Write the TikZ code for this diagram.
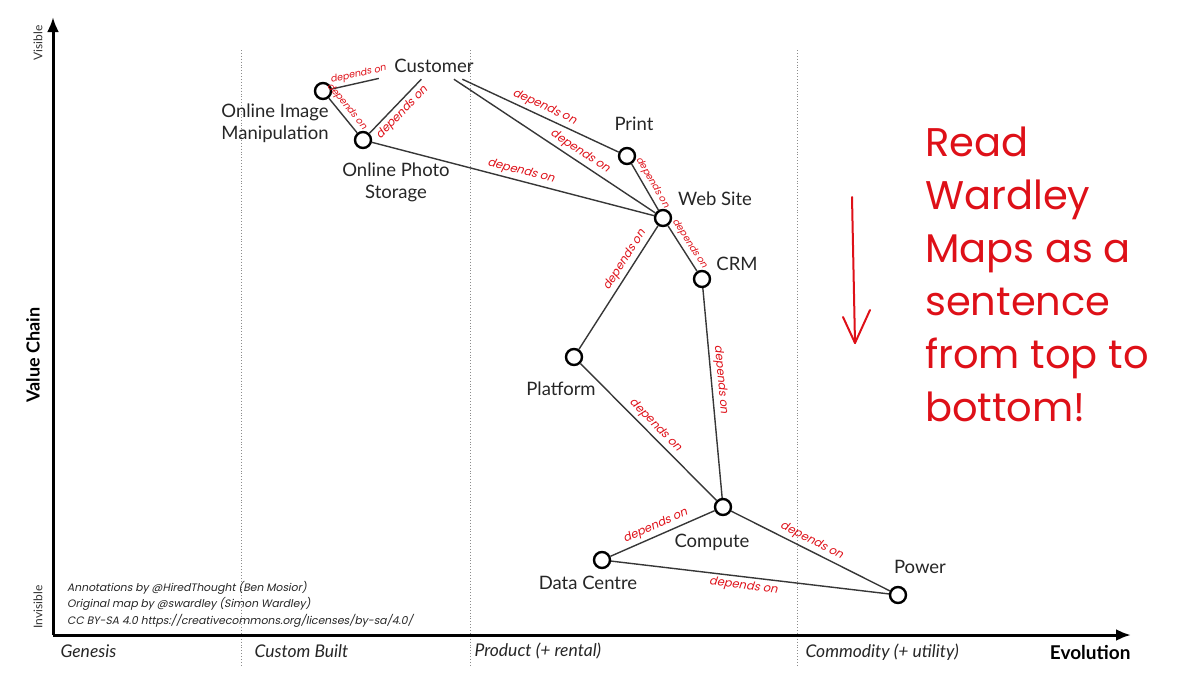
\documentclass[tikz,border=0pt]{standalone}
\usepackage{fontspec}
\setmainfont{Lato}
\newfontfamily\handfont{Poppins}
\newfontfamily\handslant[FakeSlant=0.2]{Poppins}
\usetikzlibrary{arrows.meta}
\definecolor{mapred}{RGB}{222,16,24}
\definecolor{linegray}{RGB}{55,55,55}

\begin{document}
\begin{tikzpicture}[x=1pt,y=-1pt,
  comp/.style={circle,draw=black,line width=2.4pt,fill=white,minimum size=16pt,inner sep=0pt},
  lbl/.style={font=\fontsize{18.5}{22}\selectfont,align=center,text=black!85},
  dep/.style={sloped,font=\handslant\fontsize{11.5}{13}\selectfont,text=mapred,inner sep=3pt},
  depsmall/.style={dep,font=\handslant\fontsize{9.5}{11}\selectfont},
  link/.style={draw=linegray,line width=1.4pt},
  axis/.style={line width=3pt,-{Latex[length=15pt,width=12pt]}},
  stage/.style={font=\itshape\fontsize{17.5}{20}\selectfont,anchor=west,text=black!85}]

\useasboundingbox (0,0) rectangle (1200,675);

% evolution stages
\foreach \x in {241,470,797}{
\draw[black!45,dotted,line width=0.9pt] (\x,50) -- (\x,665);
}

% axes
\coordinate (origin) at (53,635);
\draw[axis] (origin) -- (53,17);
\draw[axis] (origin) -- (1131,635);

\node[rotate=90,font=\fontsize{12}{14}\selectfont,text=black!80] (visible) at (38,43) {Visible};
\node[rotate=90,font=\fontsize{12}{14}\selectfont,text=black!80] (invisible) at (38,607) {Invisible};
\node[rotate=90,font=\bfseries\fontsize{18}{21}\selectfont] (valuechain) at (33,355) {Value Chain};

\node[stage] (genesis) at (57,651) {Genesis};
\node[stage] (custom) at (251,651) {Custom Built};
\node[stage] (product) at (471,651) {Product (+ rental)};
\node[stage] (commodity) at (802,652) {Commodity (+ utility)};
\node[anchor=east,font=\bfseries\fontsize{19}{22}\selectfont] (evolution) at (1134,653) {Evolution};

% components
\node[lbl,minimum width=110pt,minimum height=26pt,inner sep=0pt] (cust) at (434,66) {Customer};
\node[comp] (oim) at (323,91) {};
\node[comp] (ops) at (363,140) {};
\node[comp] (print) at (627,156) {};
\node[comp] (web) at (663,218) {};
\node[comp] (crm) at (702,279) {};
\node[comp] (plat) at (574,357) {};
\node[comp] (comp) at (723,507) {};
\node[comp] (dc) at (602,560) {};
\node[comp] (power) at (898,595) {};

\node[lbl] (oimlbl) at (275,123) {Online Image\\Manipulation};
\node[lbl] (opslbl) at (396,182) {Online Photo\\Storage};
\node[lbl] (printlbl) at (634,124) {Print};
\node[lbl] (weblbl) at (715,199) {Web Site};
\node[lbl] (crmlbl) at (737,264) {CRM};
\node[lbl] (platlbl) at (561,389) {Platform};
\node[lbl] (complbl) at (712,542) {Compute};
\node[lbl] (dclbl) at (588,583) {Data Centre};
\node[lbl] (powerlbl) at (920,567) {Power};

% dependencies
\draw[link] (oim) -- node[depsmall,above,pos=0.6] {depends on} (cust);
\draw[link] (oim) -- node[depsmall,above,pos=0.4] {depends on} (ops);
\draw[link] (ops) -- node[dep,below,pos=0.5] {depends on} (cust);
\draw[link] (cust) -- node[dep,above,pos=0.5] {depends on} (print);
\draw[link] (cust) -- node[dep,above,pos=0.6] {depends on} (web);
\draw[link] (ops) -- node[dep,above,pos=0.52] {depends on} (web);
\draw[link] (print) -- node[depsmall,above,pos=0.5] {depends on} (web);
\draw[link] (web) -- node[depsmall,above,pos=0.5] {depends on} (crm);
\draw[link] (web) -- node[dep,above,pos=0.32] {depends on} (plat);
\draw[link] (crm) -- node[dep,above,pos=0.44] {depends on} (comp);
\draw[link] (plat) -- node[dep,above,pos=0.5] {depends on} (comp);
\draw[link] (dc) -- node[dep,above,pos=0.47] {depends on} (comp);
\draw[link] (comp) -- node[dep,above,pos=0.48] {depends on} (power);
\draw[link] (dc) -- node[dep,below,pos=0.48] {depends on} (power);

% annotation
\node[anchor=north west,align=left,inner sep=0pt,text=mapred,
  font=\handfont\fontsize{40}{53}\selectfont] (note) at (925,127)
  {Read\\Wardley\\Maps as a\\sentence\\from top to\\bottom!};
\coordinate (arrtop) at (852,197);
\coordinate (arrtip) at (855,343);
\draw[mapred,line width=2pt,line cap=round,line join=round] (arrtop) -- (arrtip);
\draw[mapred,line width=2pt,line cap=round,line join=round] (843,317) -- (arrtip) -- (870,310);

\node[anchor=north west,align=left,inner sep=0pt,text=black!85,
  font=\handslant\fontsize{10.8}{16.5}\selectfont] (credits) at (67,581)
  {Annotations by @HiredThought (Ben Mosior)\\Original map by @swardley (Simon Wardley)\\CC BY-SA 4.0 https://creativecommons.org/licenses/by-sa/4.0/};

\end{tikzpicture}
\end{document}
